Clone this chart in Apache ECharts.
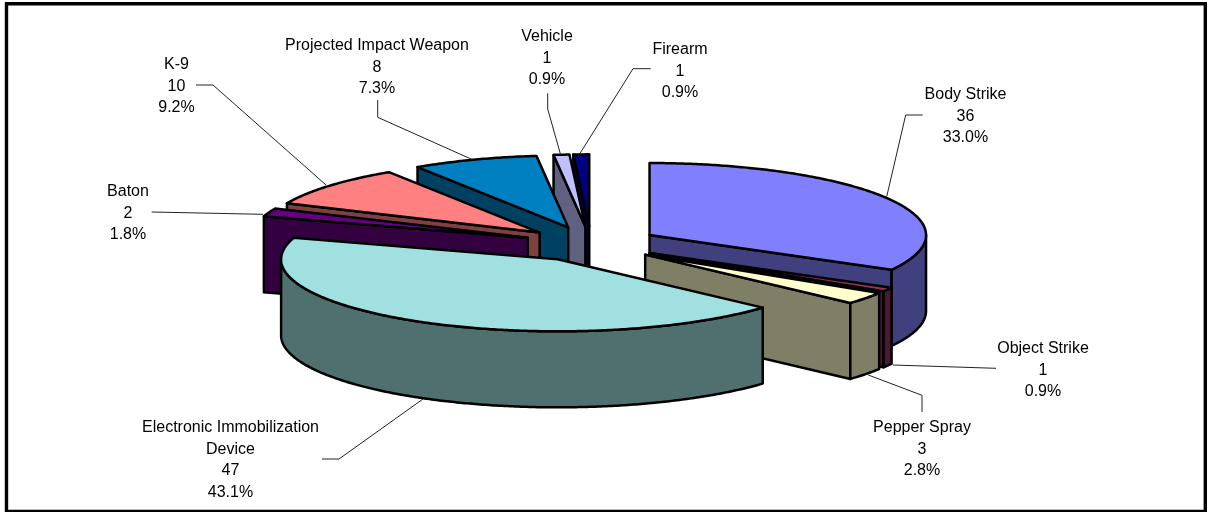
<!DOCTYPE html>
<html><head><meta charset="utf-8">
<style>html,body{margin:0;padding:0;background:#fff}#c{width:1208px;height:512px}</style>
<script src="https://cdn.jsdelivr.net/npm/echarts@6/dist/echarts.min.js"></script>
</head><body><div id="c"></div>
<script>
const categories=['Body Strike','Object Strike','Pepper Spray','Electronic Immobilization\nDevice','Baton','K-9','Projected Impact Weapon','Vehicle','Firearm'];
const values=[36,1,3,47,2,10,8,1,1];
const percents=['33.0%','0.9%','2.8%','43.1%','1.8%','9.2%','7.3%','0.9%','0.9%'];
const topColors=['#8080FF','#993366','#FFFFCC','#A0E0E0','#660080','#FF8080','#0080C0','#C0C0FF','#000080'];
const wallColors=['#40407F','#4C1933','#7F7F66','#507070','#330040','#7F4040','#004060','#606080','#000040'];
const paintOrder=[8,7,6,5,4,0,1,2,3];
const labelPos=[[965.5,93],[1043,347],[922,426],[230.5,426],[128,190],[176.5,63],[377,44],[547,35],[680,48]];
const leaders=[
 [[922.7,115],[905.7,115],[886.7,196.7]],
 [[996,368.3],[893,365]],
 [[922,412],[922,395.3],[868.3,375]],
 [[322,459],[339,459],[423,399]],
 [[151.7,212],[263,214.3]],
 [[196,85],[213,85],[326,185]],
 [[377.7,100],[377.7,117.3],[471.7,159.3]],
 [[547.7,93.3],[547.7,109],[560.7,155]],
 [[650.7,68.7],[633,68.7],[579,155]]
];
const pie={cx:591.2,cy:244,rx:276.5,ry:72,depth:76,explode:0.245};
const total=values.reduce((a,b)=>a+b,0);
let run=0;
const spans=values.map(v=>{const s=[run,run+v];run+=v;return s.map(x=>x/total*2*Math.PI);});

function renderSlice(params,api){
  const i=api.value(0),a=spans[i][0],b=spans[i][1],m=(a+b)/2;
  const ax=pie.cx+pie.explode*pie.rx*Math.sin(m),ay=pie.cy-pie.explode*pie.ry*Math.cos(m);
  const P=t=>[ax+pie.rx*Math.sin(t),ay-pie.ry*Math.cos(t)];
  const d=pie.depth,kids=[];
  const add=(pts,fill)=>kids.push({type:'polygon',shape:{points:pts},style:{fill:fill,stroke:'#000',lineWidth:2.5,lineJoin:'round'}});
  const wall=wallColors[i];
  const radial=t=>{const p=P(t);add([[ax,ay],p,[p[0],p[1]+d],[ax,ay+d]],wall);};
  if(Math.sin(a)<-1e-6) radial(a);
  if(Math.sin(b)>1e-6) radial(b);
  const lo=Math.max(a,Math.PI/2),hi=Math.min(b,3*Math.PI/2);
  if(hi>lo){
    const up=[],down=[],n=Math.max(2,Math.ceil((hi-lo)/0.01));
    for(let k=0;k<=n;k++){const p=P(lo+(hi-lo)*k/n);up.push(p);down.unshift([p[0],p[1]+d]);}
    add(up.concat(down),wall);
  }
  const top=[[ax,ay]],n=Math.max(2,Math.ceil((b-a)/0.01));
  for(let k=0;k<=n;k++)top.push(P(a+(b-a)*k/n));
  add(top,topColors[i]);
  return {type:'group',children:kids};
}

const graphics=[{type:'rect',shape:{x:6.5,y:3.8,width:1198.8,height:507.6},style:{fill:'none',stroke:'#000',lineWidth:3.4},z:0}];
leaders.forEach(pts=>graphics.push({type:'polyline',shape:{points:pts},style:{fill:'none',stroke:'#222',lineWidth:1},z:5}));
categories.forEach((c,i)=>{
  graphics.push({type:'text',x:labelPos[i][0],y:labelPos[i][1]-9,z:6,style:{
    text:c+'\n'+values[i]+'\n'+percents[i],fill:'#000',align:'center',verticalAlign:'top',
    font:'16px "Liberation Sans", Arial, sans-serif',lineHeight:21.6}});
});

const chart=echarts.init(document.getElementById('c'),null,{renderer:'canvas'});
chart.setOption({
  animation:false,backgroundColor:'#fff',
  series:[{type:'custom',coordinateSystem:'none',silent:true,z:2,renderItem:renderSlice,
    data:paintOrder.map(i=>[i,values[i]]),encode:{value:1}}],
  graphic:graphics
});
</script></body></html>
